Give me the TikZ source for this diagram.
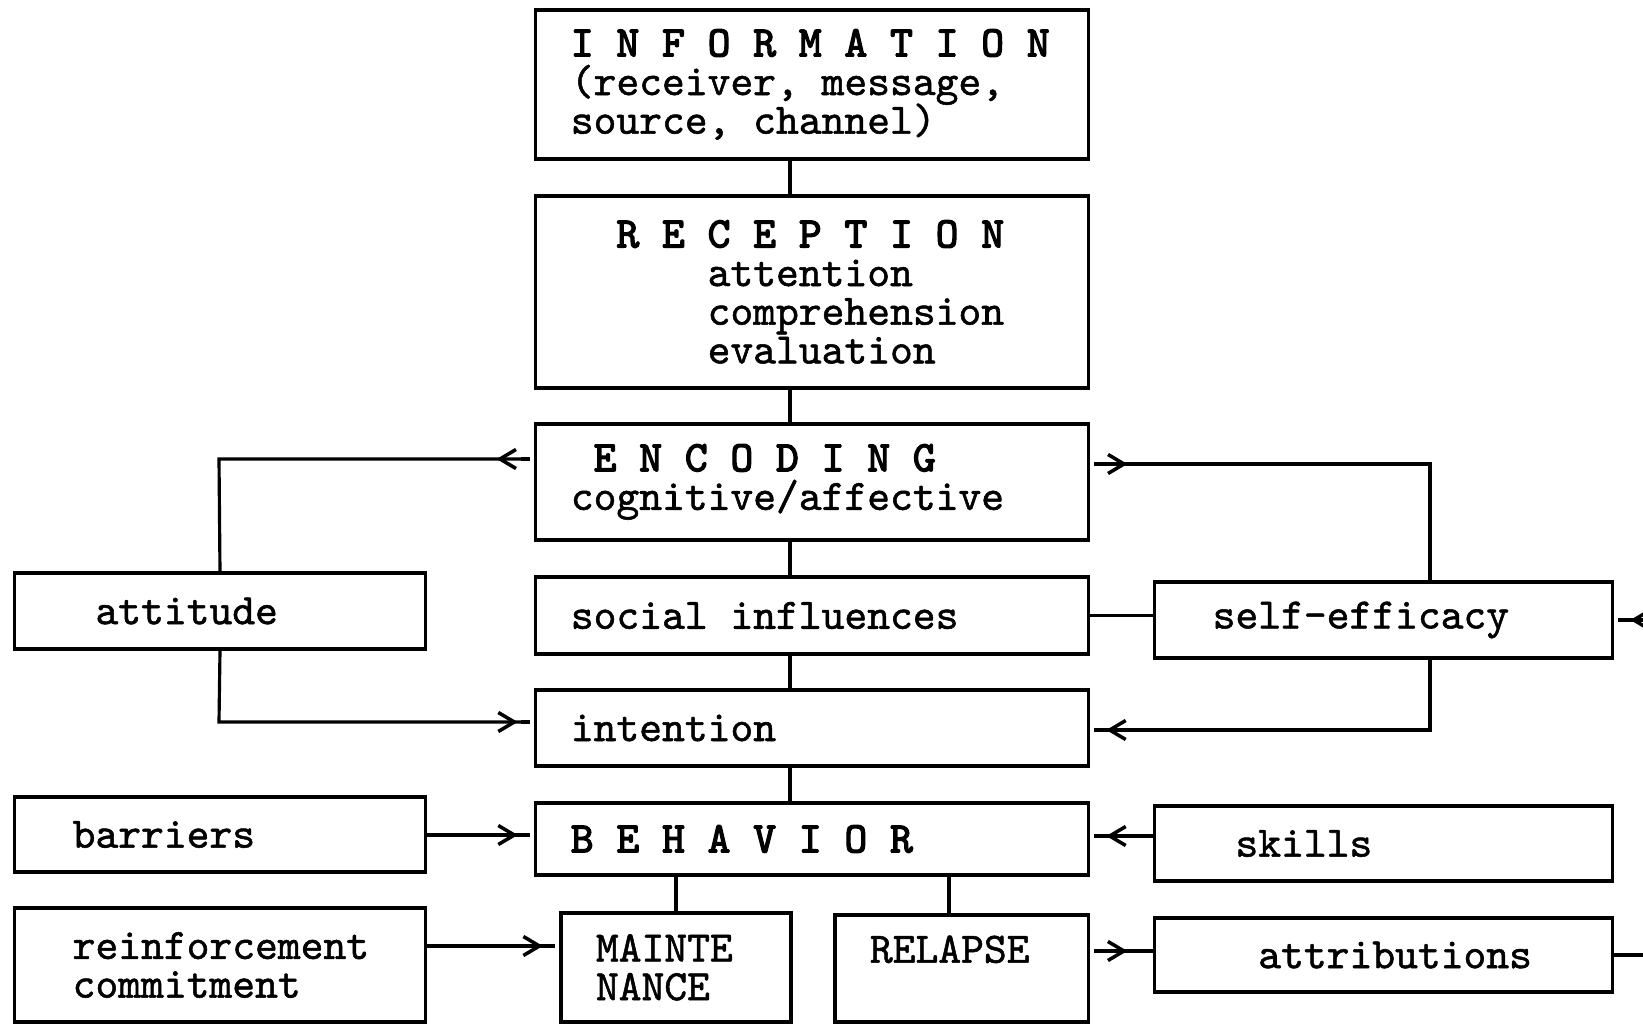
\documentclass[tikz,border=0pt]{standalone}
\usepackage{fontspec}
\usetikzlibrary{arrows.meta}

% typewriter faces, plain and heavy
\newfontfamily\typew[FakeBold=1.2]{lmmono10-regular.otf}
\newfontfamily\typeb[FakeBold=3]{lmmono10-regular.otf}
\newcommand{\typeface}{\typew\fontsize{12.35}{11}\selectfont\lineskiplimit-20pt\relax}
% headings are typed letter, space, letter, ...
\newcommand{\hdr}[1]{{\typeb\hdrloop#1\relax}}
\def\hdrloop#1{\ifx\relax#1\else\makebox[1.05em][l]{#1}\expandafter\hdrloop\fi}
% one typed character is 0.525em wide
\newcommand{\pad}[1]{\hspace*{#1\dimexpr0.525em\relax}}

\begin{document}
\begin{tikzpicture}[x=0.01cm,y=-0.01cm,line width=0.9pt,
  box/.style={draw,rectangle,inner xsep=0.35cm,inner ysep=0pt,align=left,font=\typeface,
    execute at begin node=\spaceskip0.525em\relax},
  mid/.style={box,text width=4.82cm},
  side/.style={box,text width=3.40cm},
  far/.style={box,text width=3.87cm},
  into/.style={-{Rectangle[length=0.1pt,width=0.1pt,line width=0pt]
      Straight Barb[length=0.16cm,width=0.19cm,line width=1pt,sep=0.035cm]
      Rectangle[length=0.09cm,width=0.9pt,line width=0pt,sep=0.04cm]}},
  outof/.style={{Rectangle[length=0.09cm,width=0.9pt,line width=0pt,sep=0.04cm]
      Straight Barb[reversed,length=0.16cm,width=0.19cm,line width=1pt,sep=0.035cm]
      Rectangle[length=0.1pt,width=0.1pt,line width=0pt]}-}]
  \useasboundingbox (0,0) rectangle (1643,1025);
  \clip (0,0) rectangle (1643,1025);

  % middle column
  \node[mid,minimum height=1.49cm] (info) at (812,84.5)
    {\hdr{INFORMATION}\\(receiver, message,\\source, channel)};
  \node[mid,minimum height=1.92cm] (recep) at (812,292)
    {\pad{2}\hdr{RECEPTION}\\\pad{6}attention\\\pad{6}comprehension\\\pad{6}evaluation};
  \node[mid,minimum height=1.16cm] (enc) at (812,482)
    {\pad{1}\hdr{ENCODING}\\cognitive/affective};
  \node[mid,minimum height=0.77cm] (social) at (812,615.5) {social influences};
  \node[mid,minimum height=0.76cm] (intent) at (812,728) {intention};
  \node[mid,minimum height=0.72cm] (behav) at (812,839) {\hdr{BEHAVIOR}};
  \node[box,text width=1.60cm,minimum height=1.09cm] (maint) at (676,967.5) {MAINTE\\NANCE};
  \node[box,text width=1.83cm,minimum height=1.07cm] (relapse) at (961.5,968.5) {RELAPSE\\\mbox{}};

  % left column
  \node[side,minimum height=0.76cm] (attitude) at (220,611) {\pad{2}attitude};
  \node[side,minimum height=0.75cm] (barriers) at (220,834.5) {\pad{1}barriers};
  \node[side,minimum height=1.14cm] (reinf) at (220,965) {\pad{1}reinforcement\\\pad{1}commitment};

  % right column
  \node[far,minimum height=0.76cm] (selfeff) at (1383.5,620) {\pad{1}self-efficacy};
  \node[far,minimum height=0.75cm] (skills) at (1383.5,843.5) {\pad{2}skills};
  \node[far,minimum height=0.74cm] (attrib) at (1383.5,955) {\pad{3}attributions};

  % bends and levels of the connectors
  \coordinate (spine) at (790,0);
  \coordinate (encL) at (219,459);
  \coordinate (encR) at (1430,464);
  \coordinate (intL) at (219,722);
  \coordinate (intR) at (1430,730);
  \coordinate (behL) at (0,835);
  \coordinate (behR) at (0,836);
  \coordinate (relX) at (949,0);
  \coordinate (mntY) at (0,946);
  \coordinate (attY) at (0,951);
  \coordinate (loopB) at (1700,955);
  \coordinate (loopT) at (1700,620);

  \draw (info.south -| spine) -- (recep.north -| spine);
  \draw (recep.south -| spine) -- (enc.north -| spine);
  \draw (enc.south -| spine) -- (social.north -| spine);
  \draw (social.south -| spine) -- (intent.north -| spine);
  \draw (intent.south -| spine) -- (behav.north -| spine);
  \draw (behav.south -| maint) -- (maint.north);
  \draw (behav.south -| relX) -- (relapse.north -| relX);

  \draw[outof] (enc.west |- encL) -- (encL) -- (attitude.north);
  \draw[outof] (enc.east |- encR) -- (encR) -- (selfeff.north -| encR);
  \draw[into] (attitude.south) -- (intL) -- (intent.west |- intL);
  \draw[into] (selfeff.south -| intR) -- (intR) -- (intent.east |- intR);
  \draw (social.east) -- (social.east -| selfeff.west);

  \draw[into] (barriers.east |- behL) -- (behav.west |- behL);
  \draw[into] (skills.west |- behR) -- (behav.east |- behR);
  \draw[into] (reinf.east |- mntY) -- (maint.west |- mntY);
  \draw[outof] (relapse.east |- attY) -- (attrib.west |- attY);
  \draw[into] (attrib.east) -- (loopB) -- (loopT) -- (selfeff.east);
\end{tikzpicture}
\end{document}
